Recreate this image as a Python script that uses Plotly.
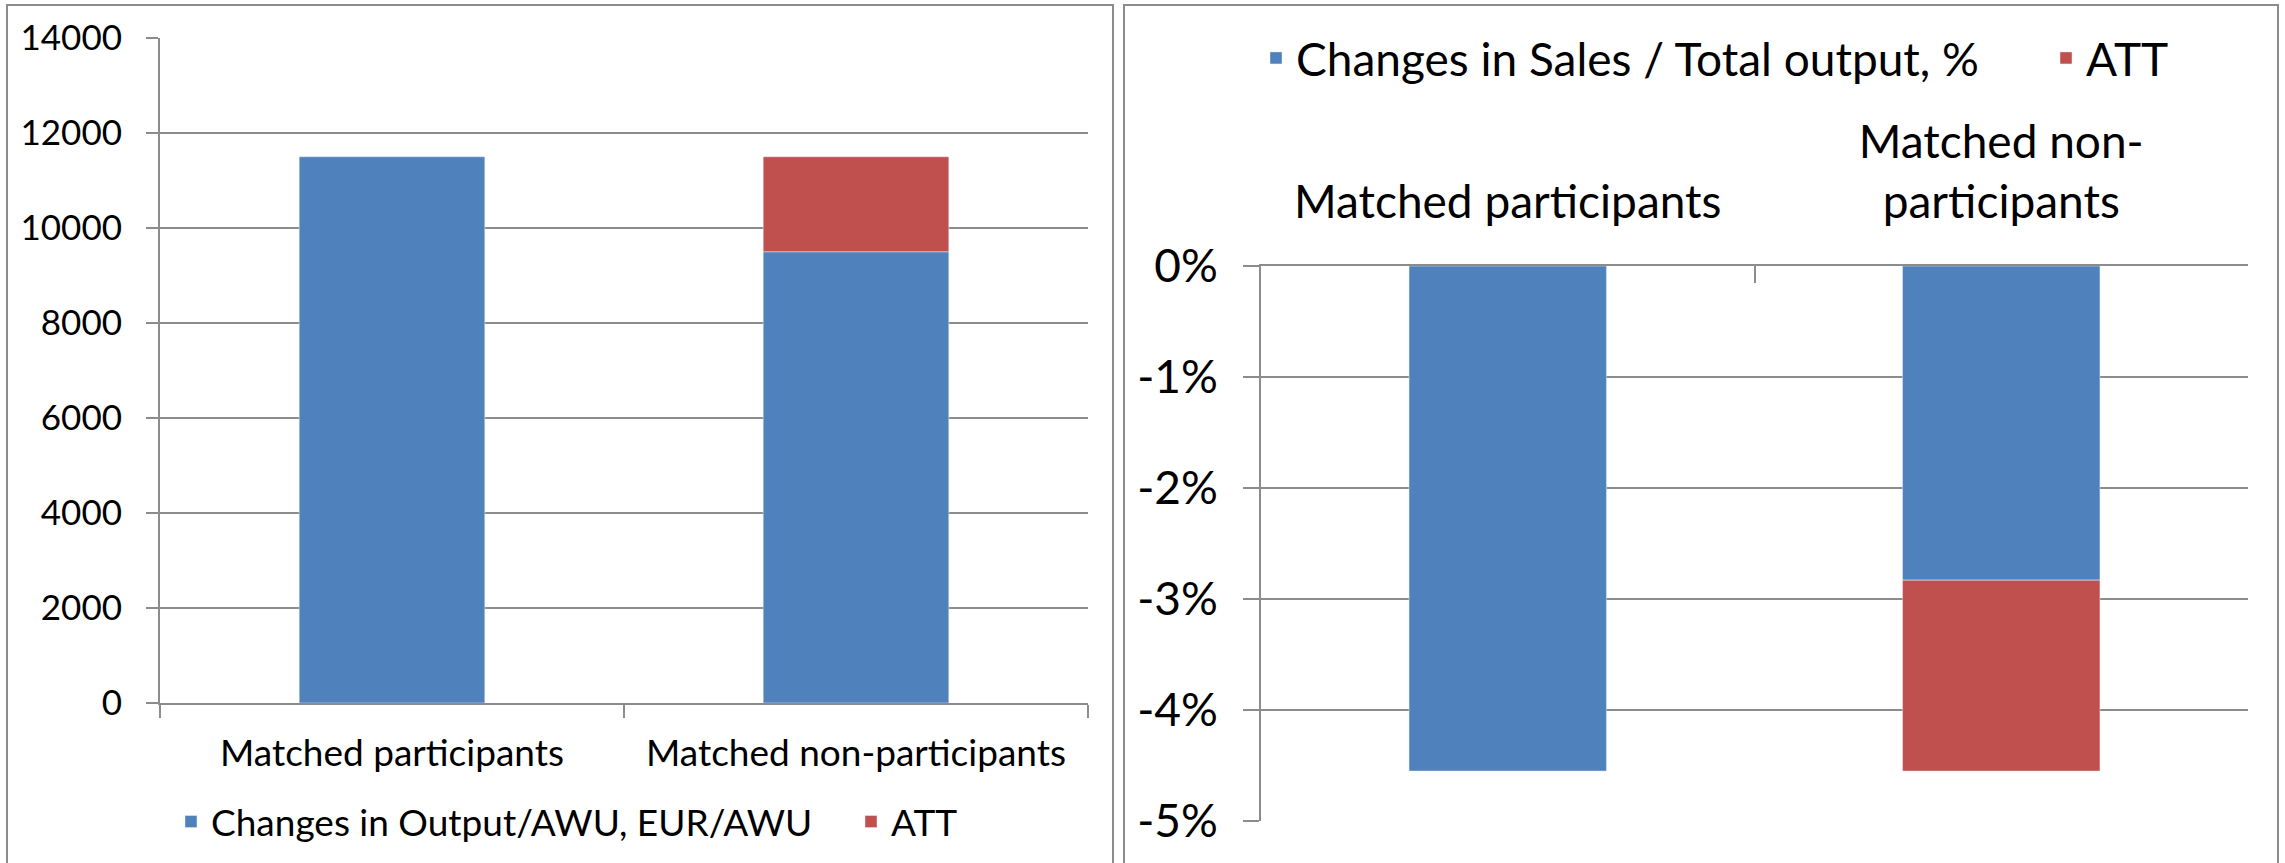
import plotly.graph_objects as go

# ---------------- data ----------------
categories = ["Matched participants", "Matched non-participants"]
categories_right = ["Matched participants", "Matched non-<br>participants"]

output_change = [11500, 9500]          # Changes in Output/AWU, EUR/AWU
output_att = [None, 2000]              # ATT
left_tickvals = [0, 2000, 4000, 6000, 8000, 10000, 12000, 14000]
left_ticktext = ["0", "2000", "4000", "6000", "8000", "10000", "12000", "14000"]

sales_change = [-4.55, -2.83]          # Changes in Sales / Total output, %
sales_att = [None, -1.72]              # ATT
right_tickvals = [0, -1, -2, -3, -4, -5]
right_ticktext = ["0%", "-1%", "-2%", "-3%", "-4%", "-5%"]

# ---------------- style ----------------
W, H = 2285, 863
BLUE = "#4F81BD"
RED = "#C0504D"
GRID = "#8C8C8C"
FONT = "Lato"
FS_L = 37
FS_LY = 35
FS_R = 46
LEG_OFF = 40  # approx distance from legend x to the start of its text

def px(x):
    return x / W

def py(y):
    return (H - y) / H

fig = go.Figure()

# left chart
fig.add_trace(go.Bar(x=categories, y=output_change, name="Changes in Output/AWU, EUR/AWU",
                     marker_color=BLUE, xaxis="x", yaxis="y", legend="legend"))
fig.add_trace(go.Bar(x=categories, y=output_att, name="ATT",
                     marker_color=RED, xaxis="x", yaxis="y", legend="legend2"))
# right chart
fig.add_trace(go.Bar(x=categories_right, y=sales_change, name="Changes in Sales / Total output, %",
                     marker_color=BLUE, xaxis="x2", yaxis="y2", legend="legend3"))
fig.add_trace(go.Bar(x=categories_right, y=sales_att, name="ATT",
                     marker_color=RED, xaxis="x2", yaxis="y2", legend="legend4"))

def leg(text_x, y, fs):
    return dict(orientation="h", x=px(text_x - LEG_OFF), xanchor="left", y=py(y), yanchor="middle",
                font=dict(size=fs, family=FONT), bgcolor="rgba(0,0,0,0)", borderwidth=0)

fig.update_layout(
    width=W, height=H,
    margin=dict(l=0, r=0, t=0, b=0, autoexpand=False),
    paper_bgcolor="white", plot_bgcolor="white",
    barmode="relative", bargap=0.6,
    font=dict(family=FONT, color="black", size=FS_L),
    xaxis=dict(domain=[px(160), px(1088)], anchor="y",
               showline=True, linecolor=GRID, linewidth=2,
               ticks="outside", tickson="boundaries", ticklen=13, tickcolor=GRID, tickwidth=2,
               showgrid=False, tickfont=dict(size=FS_L, family=FONT), ticklabelstandoff=17),
    yaxis=dict(domain=[py(703), py(38)], anchor="x", range=[0, 14000],
               tickvals=left_tickvals, ticktext=left_ticktext,
               showline=True, linecolor=GRID, linewidth=2,
               ticks="outside", ticklen=12, tickcolor=GRID, tickwidth=2,
               showgrid=True, gridcolor=GRID, gridwidth=2, zeroline=False,
               tickfont=dict(size=FS_LY, family=FONT), ticklabelstandoff=17),
    xaxis2=dict(domain=[px(1261), px(2248)], anchor="y2", side="top",
                showline=True, linecolor=GRID, linewidth=2,
                ticks="inside", tickson="boundaries", ticklen=17, tickcolor=GRID, tickwidth=2,
                showgrid=False, tickfont=dict(size=FS_R, family=FONT), ticklabelstandoff=28),
    yaxis2=dict(domain=[py(821), py(266)], anchor="x2", range=[-5, 0],
                tickvals=right_tickvals, ticktext=right_ticktext,
                showline=True, linecolor=GRID, linewidth=2,
                ticks="outside", ticklen=16, tickcolor=GRID, tickwidth=2,
                showgrid=True, gridcolor=GRID, gridwidth=2, zeroline=False,
                tickfont=dict(size=FS_R, family=FONT), ticklabelstandoff=16),
    legend=leg(211, 822, FS_L),
    legend2=leg(891, 822, FS_L),
    legend3=leg(1296, 58, FS_R),
    legend4=leg(2086, 58, FS_R),
    shapes=[
        dict(type="rect", xref="paper", yref="paper", x0=px(7), x1=px(1113), y0=-0.05, y1=py(5),
             line=dict(color=GRID, width=2), fillcolor="rgba(0,0,0,0)", layer="below"),
        dict(type="rect", xref="paper", yref="paper", x0=px(1124), x1=px(2278), y0=-0.05, y1=py(5),
             line=dict(color=GRID, width=2), fillcolor="rgba(0,0,0,0)", layer="below"),
    ],
    showlegend=True,
)

fig.write_html(
    "out.html",
    config={"displayModeBar": False},
    post_script="document.body.style.margin='0';document.documentElement.style.overflow='hidden';",
)
